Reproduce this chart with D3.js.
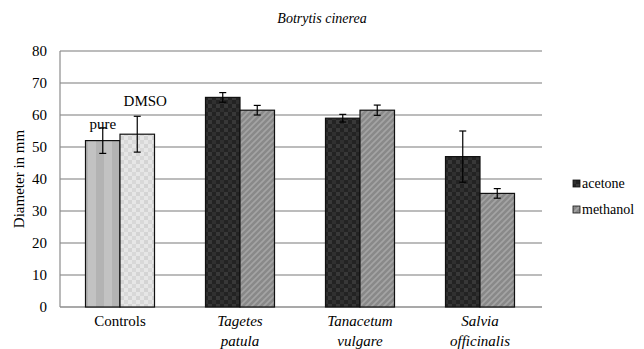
<!DOCTYPE html>
<html>
<head>
<meta charset="utf-8">
<script src="https://cdn.jsdelivr.net/npm/d3@7"></script>
<style>
  html, body { margin: 0; padding: 0; background: #fff; }
  svg { display: block; }
</style>
</head>
<body>
<svg id="chart" width="644" height="349"></svg>
<script>
// Mycelial growth diameter of Botrytis cinerea (mm)
const title = "Botrytis cinerea";
const yLabel = "Diameter in mm";
const yTicks = [0, 10, 20, 30, 40, 50, 60, 70, 80];

const categories = ["Controls", "Tagetes patula", "Tanacetum vulgare", "Salvia officinalis"];
const categoryLines = [["Controls"], ["Tagetes", "patula"], ["Tanacetum", "vulgare"], ["Salvia", "officinalis"]];

// Controls group
const controlNames = ["pure", "DMSO"];
const controlValues = [52, 54];
const controlErrors = [4, 5.6];

// Plant extracts
const extracts = ["Tagetes patula", "Tanacetum vulgare", "Salvia officinalis"];
const seriesNames = ["acetone", "methanol"];
const acetone = [65.5, 59, 47];
const acetoneErr = [1.5, 1.2, 8];
const methanol = [61.5, 61.5, 35.5];
const methanolErr = [1.5, 1.6, 1.5];

const FONT = '"Liberation Serif", "Times New Roman", Tinos, serif';
const svg = d3.select("#chart");
const margin = { left: 60, right: 101, top: 51, bottom: 42 };
const W = 644, H = 349;

function label(sel) {
  return sel.style("font-family", FONT).style("fill", "#000");
}

// Fill patterns
const defs = svg.append("defs");
function pat(id, size, bg, draw) {
  const p = defs.append("pattern").attr("id", id).attr("patternUnits", "userSpaceOnUse")
    .attr("width", size).attr("height", size);
  p.append("rect").attr("width", size).attr("height", size).attr("fill", bg);
  draw(p);
}
// pure: vertical bands
pat("p-pure", 16, "#b3b3b3", p => {
  p.append("rect").attr("x", 8).attr("width", 8).attr("height", 16).attr("fill", "#c2c2c2");
});
// DMSO: light check
pat("p-dmso", 8, "#e6e6e6", p => {
  p.append("rect").attr("width", 4).attr("height", 4).attr("fill", "#d4d4d4");
  p.append("rect").attr("x", 4).attr("y", 4).attr("width", 4).attr("height", 4).attr("fill", "#d8d8d8");
});
// acetone: dark check
pat("p-acetone", 8, "#232323", p => {
  p.append("rect").attr("width", 4).attr("height", 4).attr("fill", "#383838");
  p.append("rect").attr("x", 4).attr("y", 4).attr("width", 4).attr("height", 4).attr("fill", "#303030");
});
// methanol: grey fine diagonal stripes
pat("p-methanol", 6, "#898989", p => {
  p.append("path").attr("d", "M-1,7 L7,-1 M-1,1 L1,-1 M5,7 L7,5")
    .attr("stroke", "#a4a4a4").attr("stroke-width", 1.6);
});

const x = d3.scaleBand().domain(categories).range([margin.left, W - margin.right - 3]).padding(0);
const sub = d3.scaleBand().domain([0, 1])
  .range([x.bandwidth() * 0.2125, x.bandwidth() * 0.7875]).padding(0);
const y = d3.scaleLinear().domain([0, 80]).range([H - margin.bottom, margin.top]);

// Gridlines
svg.append("g").selectAll("line").data(yTicks.slice(1)).join("line")
  .attr("x1", margin.left).attr("x2", W - margin.right - 1)
  .attr("y1", d => y(d)).attr("y2", d => y(d))
  .attr("stroke", "#a6a6a6").attr("stroke-width", 1.5);

// Axes
svg.append("line").attr("x1", margin.left).attr("x2", margin.left)
  .attr("y1", y(80)).attr("y2", y(0)).attr("stroke", "#8c8c8c").attr("stroke-width", 1.2);
svg.append("line").attr("x1", margin.left).attr("x2", W - margin.right - 1)
  .attr("y1", y(0)).attr("y2", y(0)).attr("stroke", "#8c8c8c").attr("stroke-width", 1.5);

const yAxis = d3.axisLeft(y).tickValues(yTicks).tickSize(0).tickPadding(13);
const ga = svg.append("g").attr("transform", `translate(${margin.left},0)`).call(yAxis);
ga.select(".domain").remove();
ga.selectAll("text").call(label).style("font-size", "15px");

// Bars
const bars = [];
controlValues.forEach((v, i) => bars.push({ cat: categories[0], slot: i, v, e: controlErrors[i], fill: i ? "url(#p-dmso)" : "url(#p-pure)" }));
extracts.forEach((c, j) => {
  bars.push({ cat: c, slot: 0, v: acetone[j], e: acetoneErr[j], fill: "url(#p-acetone)" });
  bars.push({ cat: c, slot: 1, v: methanol[j], e: methanolErr[j], fill: "url(#p-methanol)" });
});

svg.append("g").selectAll("rect").data(bars).join("rect")
  .attr("x", d => x(d.cat) + sub(d.slot))
  .attr("width", sub.bandwidth())
  .attr("y", d => y(d.v))
  .attr("height", d => y(0) - y(d.v))
  .attr("fill", d => d.fill)
  .attr("stroke", "#111").attr("stroke-width", 1.2);

// Error bars
const eg = svg.append("g").attr("stroke", "#000").attr("stroke-width", 1.2);
bars.forEach(d => {
  const cx = x(d.cat) + sub(d.slot) + sub.bandwidth() / 2;
  eg.append("line").attr("x1", cx).attr("x2", cx).attr("y1", y(d.v + d.e)).attr("y2", y(d.v - d.e));
  [d.v + d.e, d.v - d.e].forEach(t => {
    eg.append("line").attr("x1", cx - 3.5).attr("x2", cx + 3.5).attr("y1", y(t)).attr("y2", y(t));
  });
});

// Control labels
const ctrlLabelPos = [{ dx: 0, dy: -12 }, { dx: 8, dy: -28 }];
controlNames.forEach((n, i) => {
  const cx = x(categories[0]) + sub(i) + sub.bandwidth() / 2 + ctrlLabelPos[i].dx;
  svg.append("text").attr("x", cx).attr("y", y(controlValues[i]) + ctrlLabelPos[i].dy)
    .attr("text-anchor", "middle").call(label).style("font-size", "15px").text(n);
});

// Category labels
categoryLines.forEach((lines, i) => {
  const cx = x(categories[i]) + x.bandwidth() / 2;
  lines.forEach((l, k) => {
    svg.append("text").attr("x", cx).attr("y", y(0) + 19 + k * 20)
      .attr("text-anchor", "middle")
      .call(label)
      .style("font-size", "15px")
      .style("font-style", i === 0 ? "normal" : "italic")
      .text(l);
  });
});

// Title
svg.append("text").attr("x", W / 2).attr("y", 23).attr("text-anchor", "middle")
  .call(label).style("font-size", "14px").style("font-style", "italic").text(title);

// Y label
svg.append("text").attr("transform", `translate(24,${(y(0) + y(80)) / 2}) rotate(-90)`)
  .attr("text-anchor", "middle").call(label).style("font-size", "15px").text(yLabel);

// Legend
const legendFills = ["url(#p-acetone)", "url(#p-methanol)"];
seriesNames.forEach((n, i) => {
  const ly = 180 + i * 26;
  svg.append("rect").attr("x", 573).attr("y", ly).attr("width", 7).attr("height", 7)
    .attr("fill", legendFills[i]).attr("stroke", "#111").attr("stroke-width", 0.8);
  svg.append("text").attr("x", 582).attr("y", ly + 7.5).call(label).style("font-size", "14px").text(n);
});
</script>
</body>
</html>
